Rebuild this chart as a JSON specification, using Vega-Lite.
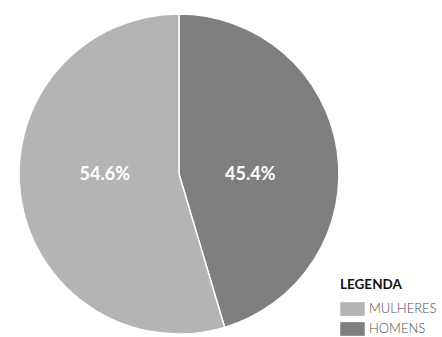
{
  "$schema": "https://vega.github.io/schema/vega-lite/v6.json",
  "width": 358,
  "height": 348,
  "autosize": "none",
  "padding": {"left": 0, "top": 0, "right": 84, "bottom": 0},
  "background": "white",
  "config": {"view": {"stroke": null}},
  "data": {"values": [
    {"sexo": "HOMENS", "pct": 0.454},
    {"sexo": "MULHERES", "pct": 0.546}
  ]},
  "encoding": {
    "theta": {"field": "pct", "type": "quantitative", "stack": true},
    "order": {"field": "sexo", "sort": "ascending"},
    "color": {
      "field": "sexo", "type": "nominal",
      "scale": {"domain": ["MULHERES", "HOMENS"], "range": ["#b4b4b4", "#7f7f7f"]},
      "legend": {
        "title": "LEGENDA", "orient": "none", "legendX": 340, "legendY": 278,
        "titleFont": "Lato", "titleFontSize": 13.5, "titleFontWeight": "bold", "titleColor": "#111",
        "titlePadding": 5,
        "labelFont": "Lato", "labelFontSize": 13, "labelColor": "#4a4a4a", "labelFontWeight": 300,
        "symbolType": "M-1,-0.56H1V0.56H-1Z", "symbolSize": 600, "symbolStrokeWidth": 0,
        "rowPadding": -5, "labelOffset": 4
      }
    }
  },
  "layer": [
    {"mark": {"type": "arc", "outerRadius": 160, "stroke": "white", "strokeWidth": 1.5}},
    {"mark": {"type": "text", "radius": 72, "dy": 11, "font": "Lato", "fontSize": 18, "fontWeight": "bold", "fill": "white"},
     "encoding": {"text": {"field": "pct", "type": "quantitative", "format": ".1%"}, "opacity": {"condition": {"test": "datum.sexo === 'HOMENS'", "value": 1}, "value": 0}}},
    {"mark": {"type": "text", "radius": 75, "dy": -10, "font": "Lato", "fontSize": 18, "fontWeight": "bold", "fill": "white"},
     "encoding": {"text": {"field": "pct", "type": "quantitative", "format": ".1%"}, "opacity": {"condition": {"test": "datum.sexo === 'MULHERES'", "value": 1}, "value": 0}}}
  ]
}
